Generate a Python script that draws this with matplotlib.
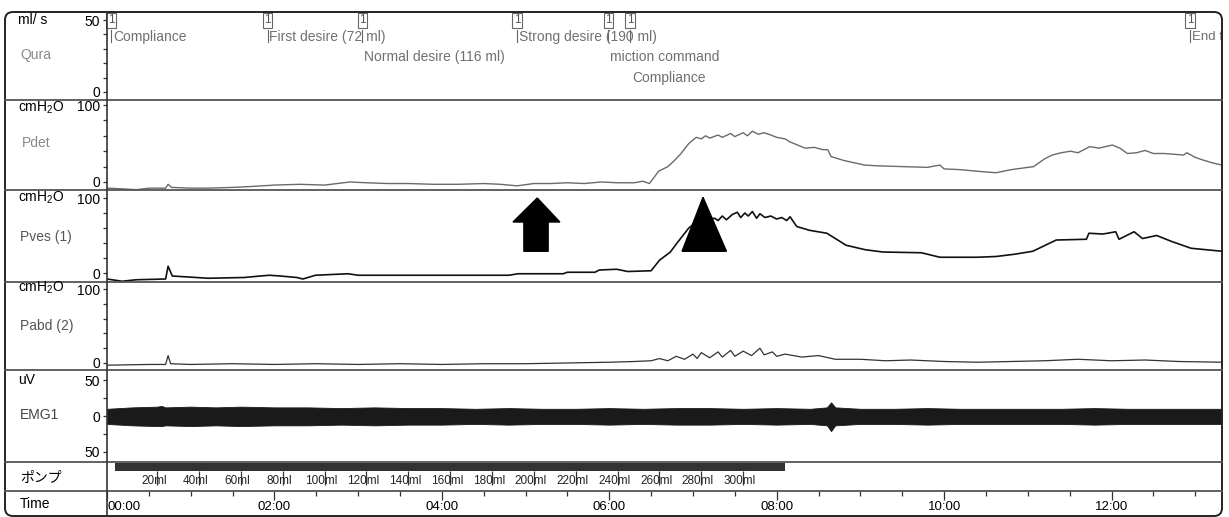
import matplotlib
matplotlib.use("Agg")
import matplotlib.pyplot as plt
from matplotlib.lines import Line2D
from matplotlib.patches import FancyBboxPatch, Polygon

plt.rcParams['font.family'] = ['Liberation Sans', 'Noto Sans CJK JP', 'DejaVu Sans']
plt.rcParams['mathtext.fontset'] = 'custom'
plt.rcParams['mathtext.rm'] = 'Liberation Sans'
plt.rcParams['mathtext.default'] = 'regular'
plt.rcParams['font.size'] = 10

# time in minutes
t_end = 13.32

# Qura events
event_t = [0.05, 1.92, 3.05, 4.90, 5.99, 6.25, 12.94]
event_text = ['Compliance', 'First desire (72 ml)', 'Normal desire (116 ml)',
              'Strong desire (190 ml)', 'miction command', 'Compliance', 'End f']
event_row = [0, 0, 1, 0, 1, 2, 0]

# Pdet (cmH2O)
pdet_t = [0.0, 0.2, 0.35, 0.5, 0.7, 0.73, 0.77, 1.0, 1.2, 1.5,
          1.7, 2.0, 2.3, 2.6, 2.9, 3.1, 3.35, 3.6, 3.9, 4.2,
          4.5, 4.7, 4.9, 5.1, 5.3, 5.5, 5.7, 5.9, 6.1, 6.3,
          6.4, 6.48, 6.59, 6.7, 6.77, 6.85, 6.95, 7.04, 7.1, 7.15,
          7.2, 7.3, 7.35, 7.45, 7.5, 7.6, 7.65, 7.71, 7.78, 7.85,
          7.93, 8.0, 8.1, 8.16, 8.25, 8.34, 8.45, 8.55, 8.61, 8.65,
          8.8, 9.05, 9.2, 9.5, 9.8, 9.95, 10.0, 10.2, 10.39, 10.62,
          10.8, 11.07, 11.2, 11.29, 11.4, 11.51, 11.6, 11.74, 11.85, 12.01,
          12.1, 12.19, 12.3, 12.4, 12.5, 12.63, 12.75, 12.86, 12.9, 13.0,
          13.08, 13.2, 13.32]
pdet_v = [-8, -9, -10, -8, -8, -3, -7, -8, -8, -7,
          -6, -4, -3, -4, 0, -1, -2, -2, -3, -3,
          -2, -3, -5, -2, -2, -1, -2, 0, -1, -1,
          1, -2, 14, 20, 27, 36, 50, 58, 56, 60,
          57, 61, 58, 63, 59, 64, 60, 66, 62, 64,
          61, 58, 56, 52, 48, 44, 45, 42, 42, 33,
          28, 22, 21, 20, 19, 22, 17, 16, 14, 12,
          16, 20, 30, 35, 38, 40, 38, 46, 44, 48,
          44, 37, 38, 41, 37, 37, 36, 35, 38, 32,
          29, 25, 22]

# Pves (cmH2O)
pves_t = [0.0, 0.18, 0.35, 0.7, 0.73, 0.78, 1.21, 1.64, 1.83, 1.94,
          2.07, 2.27, 2.34, 2.49, 2.88, 3.0, 3.35, 4.21, 4.8, 4.91,
          5.45, 5.5, 5.83, 5.88, 6.09, 6.22, 6.5, 6.6, 6.73, 6.81,
          6.95, 7.04, 7.15, 7.26, 7.3, 7.35, 7.4, 7.47, 7.53, 7.57,
          7.62, 7.66, 7.71, 7.76, 7.8, 7.86, 7.93, 8.0, 8.06, 8.12,
          8.16, 8.24, 8.39, 8.6, 8.83, 9.06, 9.27, 9.73, 9.95, 10.39,
          10.62, 10.84, 11.06, 11.34, 11.7, 11.73, 11.9, 12.05, 12.09, 12.27,
          12.37, 12.54, 12.72, 12.95, 13.32]
pves_v = [-8, -11, -9, -8, 9, -4, -7, -6, -4, -3,
          -4, -6, -8, -3, -1, -3, -3, -3, -3, -1,
          -1, 1, 1, 4, 5, 2, 3, 17, 28, 40,
          60, 68, 71, 73, 70, 76, 71, 78, 81, 74,
          80, 76, 82, 73, 79, 74, 76, 72, 74, 70,
          75, 62, 57, 53, 37, 31, 28, 27, 21, 21,
          22, 25, 29, 44, 45, 53, 52, 55, 45, 55,
          46, 50, 42, 33, 29]

# Pabd (cmH2O)
pabd_t = [0.0, 0.5, 0.7, 0.73, 0.76, 1.0, 1.5, 2.0, 2.5, 3.0,
          3.5, 4.0, 4.5, 5.0, 5.5, 6.0, 6.3, 6.5, 6.6, 6.7,
          6.8, 6.9, 7.0, 7.05, 7.1, 7.2, 7.3, 7.35, 7.45, 7.5,
          7.6, 7.7, 7.8, 7.85, 7.95, 8.0, 8.1, 8.3, 8.5, 8.7,
          9.0, 9.3, 9.6, 10.0, 10.4, 10.8, 11.2, 11.6, 12.0, 12.4,
          12.8, 13.32]
pabd_v = [-3, -2, -2, 10, -1, -2, -1, -2, -1, -2,
          -1, -2, -1, -1, 0, 1, 2, 3, 6, 3,
          9, 5, 12, 6, 14, 7, 15, 8, 17, 9,
          16, 10, 20, 11, 15, 9, 12, 8, 10, 5,
          5, 3, 4, 2, 1, 2, 3, 5, 3, 4,
          2, 1]

# EMG envelope (uV)
emg_t = [0, 0.3, 0.6, 0.65, 0.7, 1.0, 1.3, 1.6, 2.0, 2.4,
         2.8, 3.2, 3.6, 4.0, 4.4, 4.8, 5.2, 5.6, 6.0, 6.4,
         6.8, 7.2, 7.6, 8.0, 8.4, 8.6, 8.65, 8.7, 9.0, 9.4,
         9.8, 10.2, 10.6, 11.0, 11.4, 11.8, 12.2, 12.6, 13.0, 13.32]
emg_hi = [10, 12, 13, 14, 12, 13, 12, 13, 12, 12,
          11, 12, 11, 11, 10, 11, 10, 10, 11, 10,
          11, 11, 10, 11, 10, 12, 19, 12, 10, 10,
          11, 10, 10, 10, 10, 11, 10, 10, 10, 10]
emg_lo = [-11, -13, -14, -14, -13, -14, -13, -14, -13, -13,
          -12, -13, -12, -12, -11, -12, -11, -11, -12, -11,
          -12, -12, -11, -12, -11, -13, -21, -13, -11, -11,
          -12, -11, -11, -11, -11, -12, -11, -11, -11, -11]

# pump
pump_start, pump_end = 0.1, 8.1
pump_ml = [20, 40, 60, 80, 100, 120, 140, 160, 180, 200, 220, 240, 260, 280, 300]
pump_mark_t = [0.6, 1.1, 1.6, 2.1, 2.6, 3.1, 3.6, 4.1, 4.6, 5.1, 5.6, 6.1, 6.6, 7.1, 7.6]

time_ticks = [0, 2, 4, 6, 8, 10, 12]
time_labels = ['00:00', '02:00', '04:00', '06:00', '08:00', '10:00', '12:00']

# markers drawn in Pves panel
arrow_x = [4.98, 4.98, 4.85, 5.14, 5.41, 5.27, 5.27]
arrow_y = [29, 68, 68, 100, 68, 68, 29]
tri_x = [6.87, 7.12, 7.40]
tri_y = [29, 101, 29]

W, H = 1229, 517
fig = plt.figure(figsize=(W / 100, H / 100), dpi=100)


def fx(px):
    return px / W


def fy(py):
    return 1 - py / H


def panel(top, bottom, ylim):
    ax = fig.add_axes([fx(107), fy(bottom), (1222 - 107) / W, (bottom - top) / H])
    for s in ax.spines.values():
        s.set_visible(False)
    ax.patch.set_alpha(0)
    ax.set_xlim(0, t_end)
    ax.set_ylim(*ylim)
    ax.set_xticks([])
    ax.tick_params(axis='y', which='both', length=3, width=0.9, pad=2,
                   labelsize=10, color='#333')
    return ax


ax_q = panel(12, 100, (-5.6, 55.6))
ax_q.set_yticks([0, 50])
ax_q.set_yticks([10, 20, 30, 40], minor=True)
ax_q.tick_params(axis='y', which='minor', labelleft=False)
xt = ax_q.get_xaxis_transform()
row_y = [0.716, 0.489, 0.25]
for t, txt, r in zip(event_t, event_text, event_row):
    ax_q.text(t, 0.905, '1', transform=xt, ha='center', va='center', fontsize=8.5,
              color='#555', bbox=dict(boxstyle='square,pad=0.12', fc='white', ec='#666', lw=0.8))
    ax_q.plot([t, t], [0.8, 0.655], transform=xt, color='#666', lw=0.8)
    ax_q.text(t + 0.02, row_y[r], txt, transform=xt, ha='left', va='center',
              fontsize=10 if r or t < 12 else 9.5, color='#707070')

ax_d = panel(100, 190, (-10.4, 106.5))
ax_d.set_yticks([0, 100])
ax_d.set_yticks([20, 40, 60, 80], minor=True)
ax_d.plot(pdet_t, pdet_v, color='#6a6a6a', lw=1.0)

ax_v = panel(190, 282, (-12, 110.7))
ax_v.set_yticks([0, 100])
ax_v.set_yticks([20, 40, 60, 80], minor=True)
ax_v.plot(pves_t, pves_v, color='#111', lw=1.2)
ax_v.add_patch(Polygon(list(zip(arrow_x, arrow_y)), closed=True, fc='black', ec='black', zorder=5))
ax_v.add_patch(Polygon(list(zip(tri_x, tri_y)), closed=True, fc='black', ec='black', zorder=5))

ax_a = panel(282, 370, (-9.5, 109.5))
ax_a.set_yticks([0, 100])
ax_a.set_yticks([20, 40, 60, 80], minor=True)
ax_a.plot(pabd_t, pabd_v, color='#333', lw=0.9)

ax_e = panel(370, 462, (-63.9, 63.9))
ax_e.set_yticks([-50, 0, 50], ['50', '0', '50'])
ax_e.set_yticks([-25, 25], minor=True)
ax_e.fill_between(emg_t, emg_lo, emg_hi, color='#1a1a1a', lw=0.6)

ax_p = panel(462, 491, (0, 1))
ax_p.set_yticks([])
ax_p.barh(0.82, pump_end - pump_start, left=pump_start, height=0.28, color='#333')
ax_p.vlines(pump_mark_t, 0.2, 0.68, color='#333', lw=0.9)
for t, ml in zip(pump_mark_t, pump_ml):
    ax_p.text(t - 0.04, 0.36, f'{ml}ml', ha='center', va='center', fontsize=8.5,
              family=['Liberation Sans Narrow', 'Liberation Sans'], color='#222')
ax_p.set_xticks(time_ticks, time_labels)
ax_p.set_xticks([i * 0.5 for i in range(1, 27)], minor=True)
ax_p.tick_params(axis='x', which='major', length=6.5, width=0.9, pad=0.5, labelsize=9.5, color='#333')
ax_p.tick_params(axis='x', which='minor', length=3.8, width=0.9, color='#333')
ax_p.get_xticklabels()[0].set_horizontalalignment('left')

# left column labels
lab = [('ml/ s', 18, 20, 'black'), ('Qura', 20, 55, '#8a8a8a'),
       ('cmH$_2$O', 18, 108, 'black'), ('Pdet', 22, 143, '#8a8a8a'),
       ('cmH$_2$O', 18, 198, 'black'), ('Pves (1)', 20, 237, '#555'),
       ('cmH$_2$O', 18, 288, 'black'), ('Pabd (2)', 20, 326, '#555'),
       ('uV', 18, 380, 'black'), ('EMG1', 20, 415, '#444'),
       ('ポンプ', 20, 478, 'black'), ('Time', 20, 504, 'black')]
for s, x, y, c in lab:
    fig.text(fx(x), fy(y), s, ha='left', va='center', fontsize=10, color=c)

# grid lines of the recorder layout
for y in [100, 190, 282, 370, 462, 491]:
    fig.add_artist(Line2D([fx(5), fx(1222)], [fy(y), fy(y)], transform=fig.transFigure,
                          color='#555', lw=1.3))
fig.add_artist(Line2D([fx(107), fx(107)], [fy(12), fy(516)], transform=fig.transFigure,
                      color='#333', lw=1.2))
fig.add_artist(FancyBboxPatch((0.05, 0.01), 12.17, 5.04,
                              boxstyle='round,pad=0,rounding_size=0.08',
                              transform=fig.dpi_scale_trans, fc='none', ec='#222', lw=1.4))

fig.savefig('out.png', dpi=100)
